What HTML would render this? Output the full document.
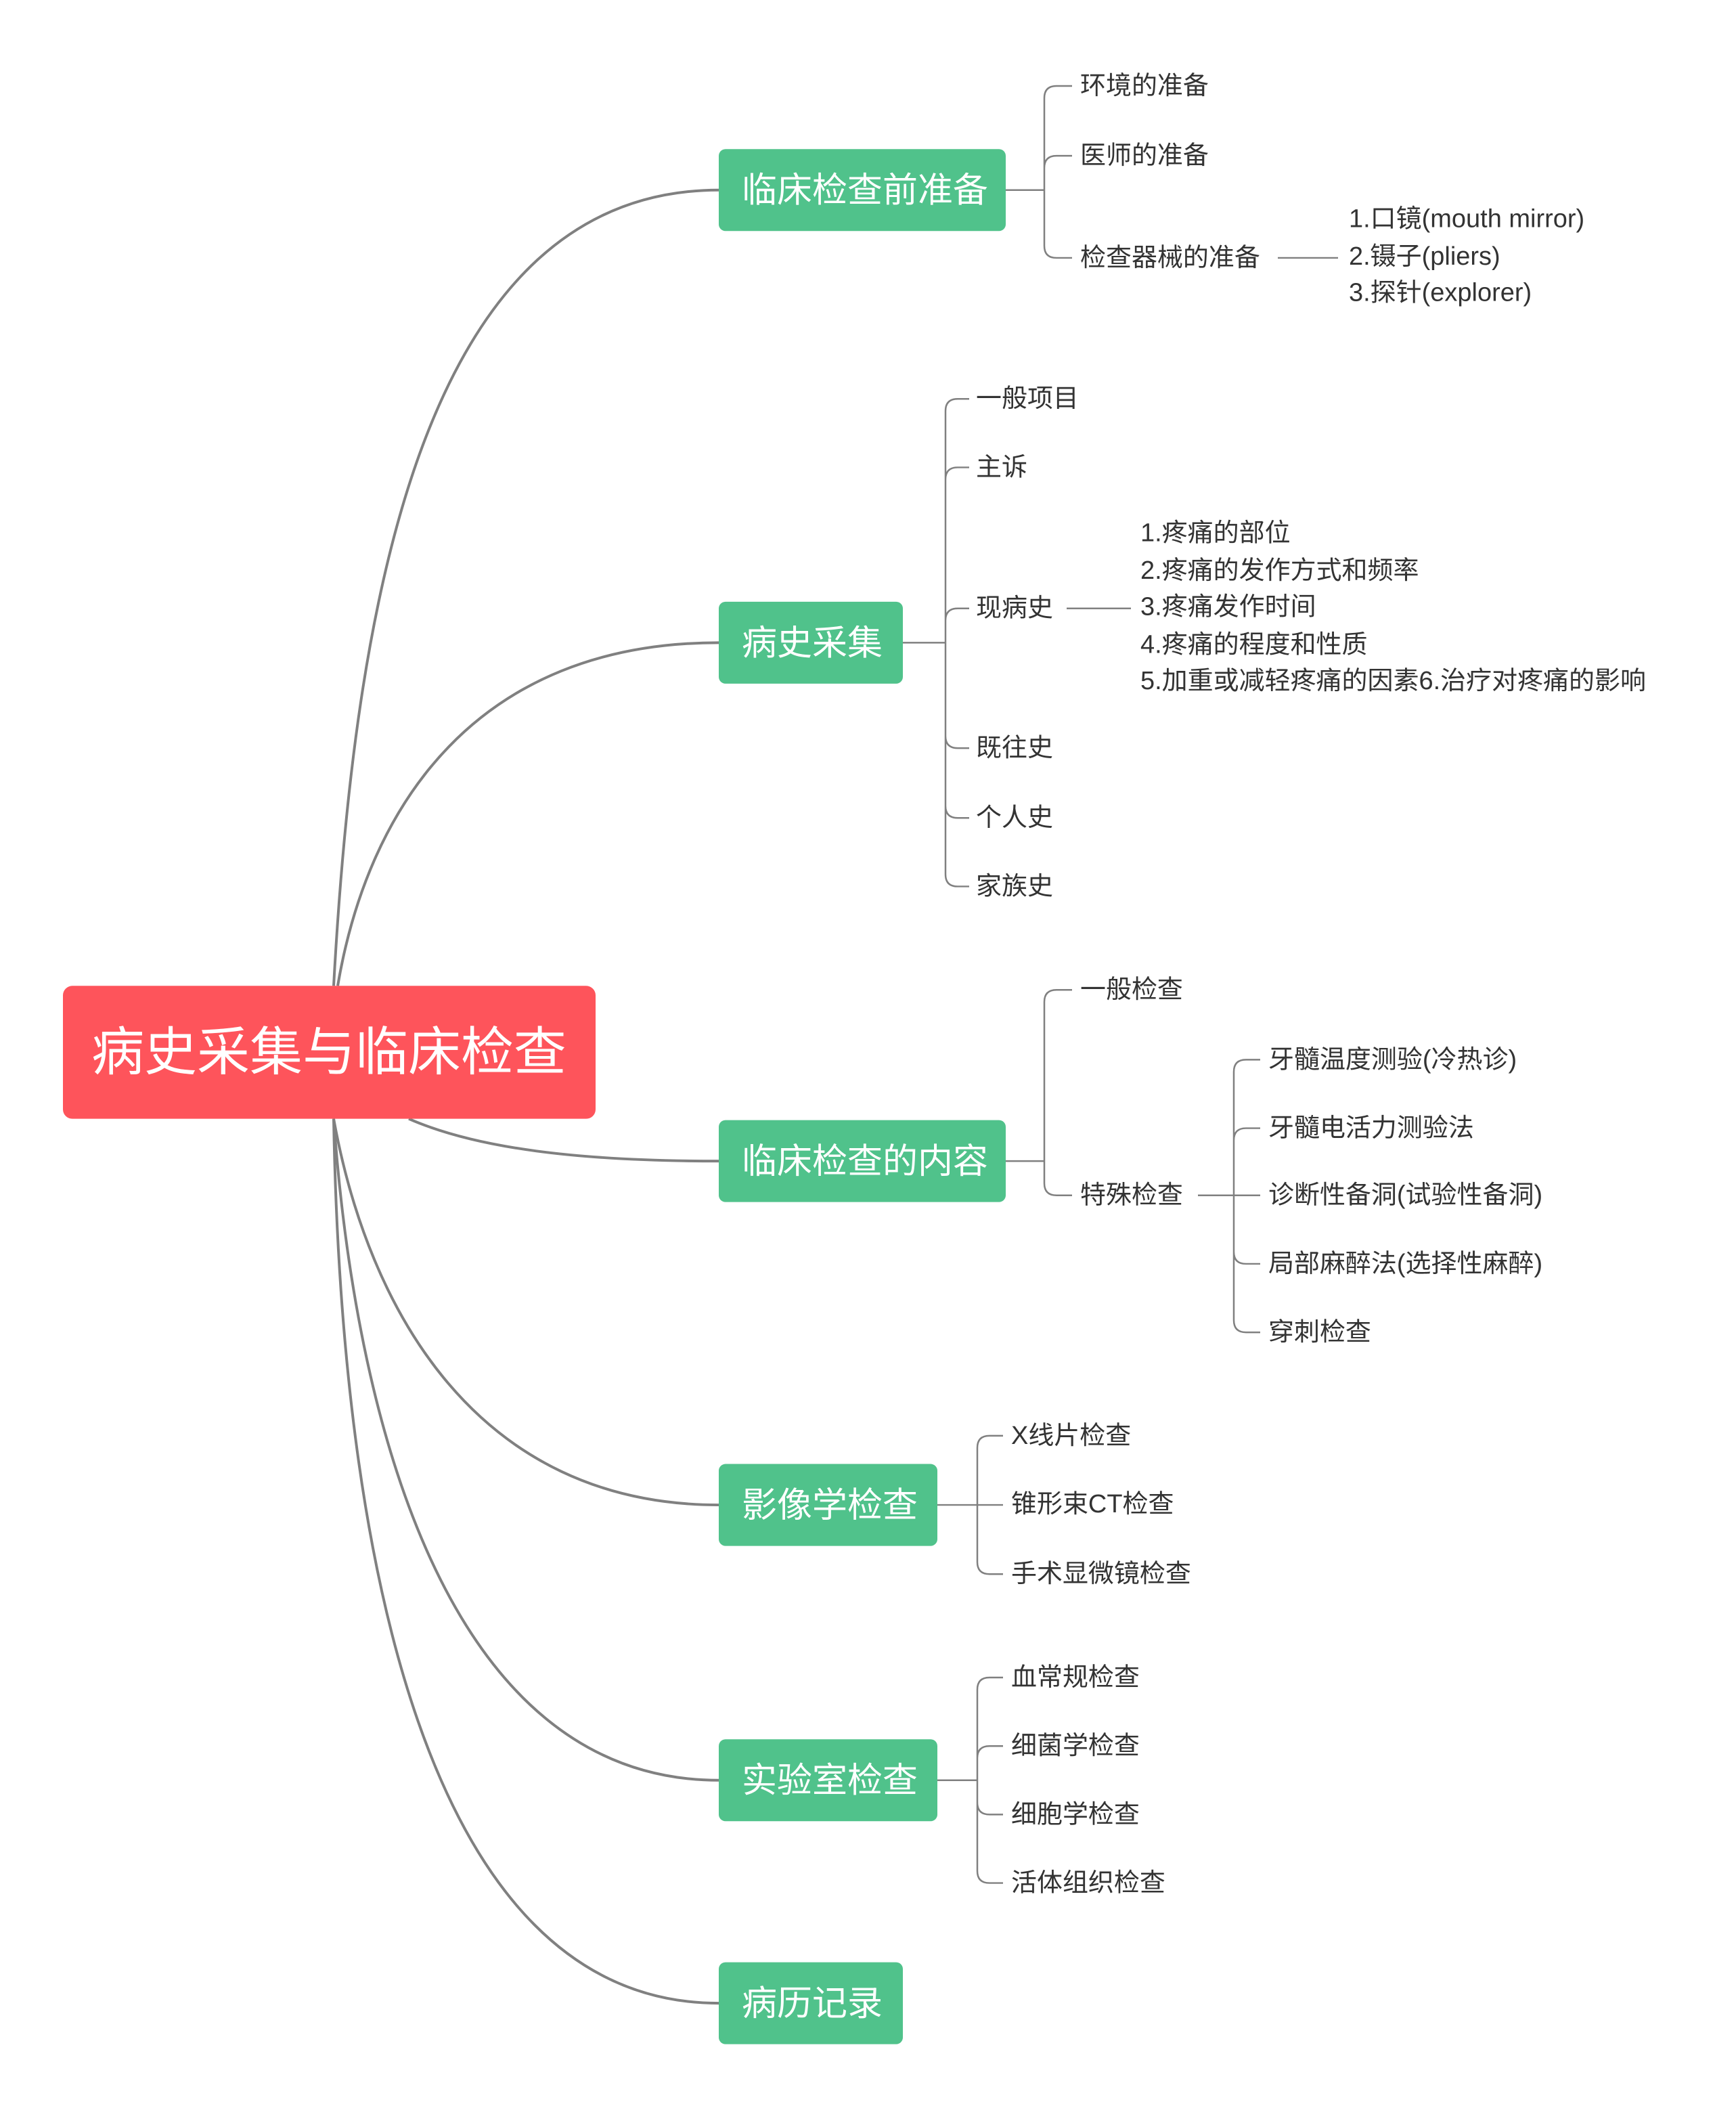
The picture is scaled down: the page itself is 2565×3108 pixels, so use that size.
<!DOCTYPE html>
<html><head><meta charset="utf-8"><style>
html,body{margin:0;padding:0;background:#fff}
svg{display:block}
text{font-family:"Liberation Sans","Noto Sans CJK SC",sans-serif;dominant-baseline:central}
.l{font-size:38px;fill:#333}
.g{font-size:52px;fill:#fff}
</style></head><body>
<svg width="2565" height="3108" viewBox="0 0 2565 3108" xmlns="http://www.w3.org/2000/svg">
<g transform="translate(4,0) scale(1,0.992)">
<g fill="none" stroke="#808080" stroke-width="4">
<path d="M489 1468 C520 900 620 283 1058 283"/>
<path d="M495 1468 C540 1200 700 957 1058 957"/>
<path d="M600 1666 C700 1710 850 1729 1058 1729"/>
<path d="M489 1666 C540 1950 700 2241 1058 2241"/>
<path d="M489 1666 C520 2100 650 2651 1058 2651"/>
<path d="M489 1666 C500 2300 620 2983 1058 2983"/>
</g>
<rect x="89" y="1468" width="787" height="198" rx="14" fill="#fe545b"/>
<text x="482" y="1567" text-anchor="middle" style="font-size:78px;fill:#fff">病史采集与临床检查</text>
<g fill="#50c28b">
<rect x="1058" y="222" width="424" height="122" rx="10"/>
<rect x="1058" y="896" width="272" height="122" rx="10"/>
<rect x="1058" y="1668" width="424" height="122" rx="10"/>
<rect x="1058" y="2180" width="323" height="122" rx="10"/>
<rect x="1058" y="2590" width="323" height="122" rx="10"/>
<rect x="1058" y="2922" width="272" height="122" rx="10"/>
</g>
<g class="g">
<text x="1092" y="283">临床检查前准备</text>
<text x="1092" y="957">病史采集</text>
<text x="1092" y="1729">临床检查的内容</text>
<text x="1092" y="2241">影像学检查</text>
<text x="1092" y="2651">实验室检查</text>
<text x="1092" y="2983">病历记录</text>
</g>
<g fill="none" stroke="#808080" stroke-width="2.5">
<path d="M1482 283 H1539 M1539 146 V366 M1539 146 Q1539 128 1557 128 H1580 M1539 250 Q1539 232 1557 232 H1580 M1539 366 Q1539 384 1557 384 H1580 M1884 384 H1973"/>
<path d="M1330 957 H1393 M1393 612 V1302 M1393 612 Q1393 594 1411 594 H1428 M1393 714 Q1393 696 1411 696 H1428 M1393 924 Q1393 906 1411 906 H1428 M1393 1096 Q1393 1114 1411 1114 H1428 M1393 1200 Q1393 1218 1411 1218 H1428 M1393 1302 Q1393 1320 1411 1320 H1428 M1572 906 H1667"/>
<path d="M1482 1729 H1539 M1539 1492 V1762 M1539 1492 Q1539 1474 1557 1474 H1580 M1539 1762 Q1539 1780 1557 1780 H1580 M1766 1780 H1819 M1819 1596 V1966 M1819 1596 Q1819 1578 1837 1578 H1858 M1819 1698 Q1819 1680 1837 1680 H1858 M1819 1780 H1858 M1819 1864 Q1819 1882 1837 1882 H1858 M1819 1966 Q1819 1984 1837 1984 H1858"/>
<path d="M1381 2241 H1440 M1440 2156 V2326 M1440 2156 Q1440 2138 1458 2138 H1478 M1440 2241 H1478 M1440 2326 Q1440 2344 1458 2344 H1478"/>
<path d="M1381 2651 H1440 M1440 2516 V2786 M1440 2516 Q1440 2498 1458 2498 H1478 M1440 2618 Q1440 2600 1458 2600 H1478 M1440 2684 Q1440 2702 1458 2702 H1478 M1440 2786 Q1440 2804 1458 2804 H1478"/>
</g>
<g class="l">
<text x="1592" y="128">环境的准备</text>
<text x="1592" y="232">医师的准备</text>
<text x="1592" y="384">检查器械的准备</text>
<text x="1989" y="326">1.口镜(mouth mirror)</text>
<text x="1989" y="382">2.镊子(pliers)</text>
<text x="1989" y="436">3.探针(explorer)</text>
<text x="1438" y="594">一般项目</text>
<text x="1438" y="696">主诉</text>
<text x="1438" y="906">现病史</text>
<text x="1438" y="1114">既往史</text>
<text x="1438" y="1218">个人史</text>
<text x="1438" y="1320">家族史</text>
<text x="1681" y="794">1.疼痛的部位</text>
<text x="1681" y="850">2.疼痛的发作方式和频率</text>
<text x="1681" y="904">3.疼痛发作时间</text>
<text x="1681" y="960">4.疼痛的程度和性质</text>
<text x="1681" y="1014">5.加重或减轻疼痛的因素6.治疗对疼痛的影响</text>
<text x="1592" y="1474">一般检查</text>
<text x="1592" y="1780">特殊检查</text>
<text x="1870" y="1578">牙髓温度测验(冷热诊)</text>
<text x="1870" y="1680">牙髓电活力测验法</text>
<text x="1870" y="1780">诊断性备洞(试验性备洞)</text>
<text x="1870" y="1882">局部麻醉法(选择性麻醉)</text>
<text x="1870" y="1984">穿刺检查</text>
<text x="1490" y="2138">X线片检查</text>
<text x="1490" y="2240">锥形束CT检查</text>
<text x="1490" y="2344">手术显微镜检查</text>
<text x="1490" y="2498">血常规检查</text>
<text x="1490" y="2600">细菌学检查</text>
<text x="1490" y="2702">细胞学检查</text>
<text x="1490" y="2804">活体组织检查</text>
</g>
</g>
</svg>
</body></html>
